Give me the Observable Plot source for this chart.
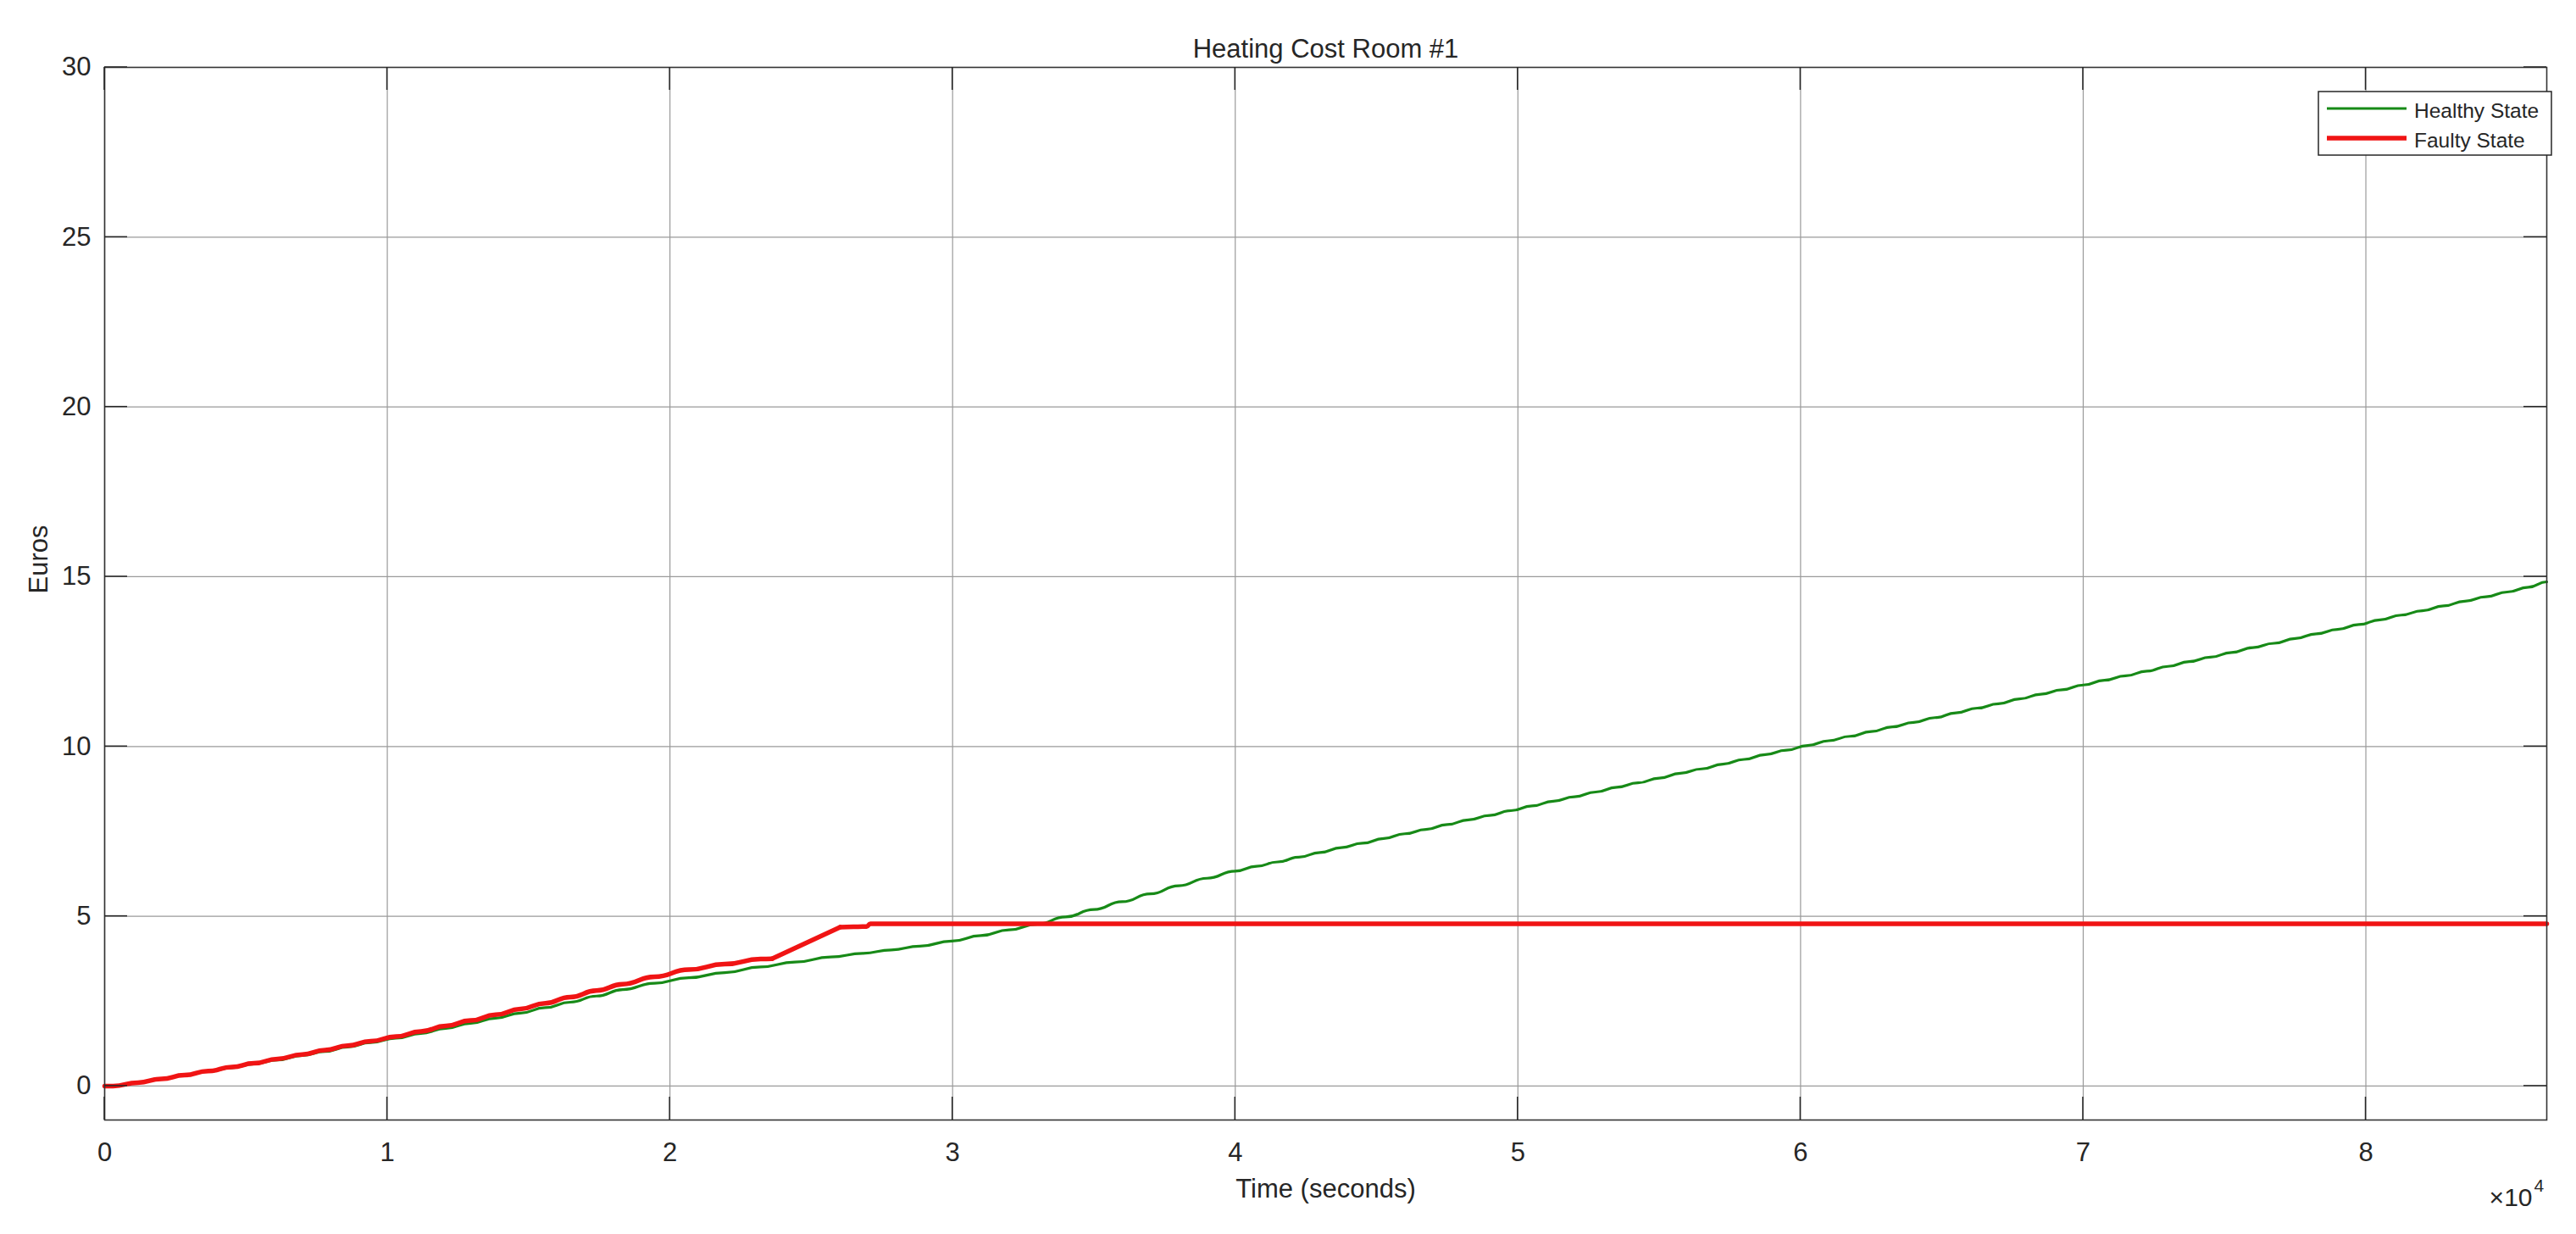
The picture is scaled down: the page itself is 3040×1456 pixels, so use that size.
<!DOCTYPE html>
<html>
<head>
<meta charset="utf-8">
<script src="https://cdn.jsdelivr.net/npm/d3@7"></script>
<script src="https://cdn.jsdelivr.net/npm/@observablehq/plot@0.6"></script>
<style>
  html, body { margin: 0; padding: 0; background: #ffffff; }
  #chart svg { display: block; }
</style>
</head>
<body>
<div id="chart"></div>
<script>
// ---------- text ----------
const title = "Heating Cost Room #1";
const xLabel = "Time (seconds)";
const yLabel = "Euros";
const xExponentBase = "\u00d710";
const xExponent = "4";
const seriesNames = ["Healthy State", "Faulty State"];

// ---------- ticks ----------
const xTicks = [0, 10000, 20000, 30000, 40000, 50000, 60000, 70000, 80000];
const yTicks = [0, 5, 10, 15, 20, 25, 30];

// ---------- Healthy State (time in s, cost in euros), read at each heating step ----------
const healthyTime = [0, 300, 1170, 2010, 2820, 3660, 4500, 5280, 6120, 6990,
  7800, 8600, 9410, 10310, 11190, 12070, 12950, 13830, 14710, 15590,
  16470, 17400, 18330, 19460, 20670, 21940, 23210, 24420, 25690, 26830,
  27830, 28840, 29970, 31000, 32000, 33000, 34000, 35000, 36000, 37000,
  38000, 39000,
  40000, 40750, 41500, 42250, 43000, 43750, 44500, 45250, 46000, 46750,
  47500, 48250, 49000, 49750, 50500, 51250, 52000, 52750, 53500, 54250,
  55000, 55750, 56500, 57250, 58000, 58750, 59500, 60250, 61000, 61750,
  62500, 63250, 64000, 64750, 65500, 66250, 67000, 67750, 68500, 69250,
  70000, 70750, 71500, 72250, 73000, 73750, 74500, 75250, 76000, 76750,
  77500, 78250, 79000, 79750, 80500, 81250, 82000, 82750, 83500, 84250,
  85000, 85750, 86400];
const healthyCost = [0, 0, 0.10, 0.21, 0.32, 0.43, 0.54, 0.65, 0.77, 0.90,
  1.02, 1.15, 1.28, 1.41, 1.55, 1.70, 1.85, 2.00, 2.15, 2.31,
  2.47, 2.65, 2.84, 3.03, 3.19, 3.34, 3.51, 3.65, 3.80, 3.91,
  4.01, 4.12, 4.27, 4.43, 4.60, 4.77, 4.98, 5.20, 5.43, 5.66,
  5.90, 6.12,
  6.33, 6.47, 6.60, 6.74, 6.88, 7.02, 7.15, 7.29, 7.43, 7.56,
  7.70, 7.84, 7.97, 8.11, 8.25, 8.39, 8.52, 8.66, 8.80, 8.93,
  9.07, 9.21, 9.34, 9.48, 9.62, 9.76, 9.89, 10.03, 10.17, 10.30,
  10.44, 10.58, 10.71, 10.85, 10.99, 11.13, 11.26, 11.40, 11.54, 11.67,
  11.81, 11.95, 12.08, 12.22, 12.36, 12.50, 12.63, 12.77, 12.91, 13.04,
  13.18, 13.32, 13.45, 13.59, 13.73, 13.87, 14.00, 14.14, 14.28, 14.41,
  14.55, 14.69, 14.85];

// ---------- Faulty State ----------
const faultyTime = [0, 300, 1170, 2010, 2820, 3660, 4500, 5280, 6120, 6990,
  7800, 8600, 9410, 10310, 11190, 12070, 12950, 13830, 14710, 15590,
  16470, 17400, 18330, 19460, 20670, 21940, 23210, 23610, 26020, 26960,
  27090, 86400];
const faultyCost = [0, 0, 0.10, 0.21, 0.32, 0.44, 0.56, 0.67, 0.80, 0.93,
  1.06, 1.19, 1.32, 1.46, 1.61, 1.77, 1.93, 2.10, 2.27, 2.44,
  2.62, 2.81, 3.00, 3.22, 3.43, 3.59, 3.74, 3.75, 4.68, 4.70,
  4.78, 4.78];
// the straight ramp segment of the faulty curve (start, end time)
const faultyRamp = [23610, 26020];

(function draw() {
  const healthy = healthyTime.slice(0, healthyCost.length).map((t, i) => ({time: t, cost: healthyCost[i]}));
  const faulty = faultyTime.map((t, i) => ({time: t, cost: faultyCost[i]}));
  const faultyBefore = faulty.filter(d => d.time <= faultyRamp[0]);
  const faultyRampPts = faulty.filter(d => d.time >= faultyRamp[0] && d.time <= faultyRamp[1]);
  const faultyAfter = faulty.filter(d => d.time >= faultyRamp[1]);

  const FONT = "'Liberation Sans', Arial, Helvetica, sans-serif";
  const TEXT = "#262626";
  const GRID = "#9a9a9a";
  const GREEN = "#178a17";
  const RED = "#f01414";
  const seriesColors = [GREEN, RED];
  const seriesWidths = [3.2, 5.5];
  const FS = 31;

  const chart = Plot.plot({
    width: 3040,
    height: 1456,
    marginLeft: 123,
    marginRight: 35,
    marginTop: 79,
    marginBottom: 135,
    style: {fontFamily: FONT, fontSize: FS + "px", color: TEXT, background: "#ffffff", overflow: "visible"},
    x: {domain: [0, 86400], label: null},
    y: {domain: [-1, 30], label: null},
    marks: [
      Plot.gridX(xTicks, {stroke: GRID, strokeOpacity: 1, strokeWidth: 1.2}),
      Plot.gridY(yTicks, {stroke: GRID, strokeOpacity: 1, strokeWidth: 1.2}),
      Plot.axisX(xTicks, {anchor: "bottom", tickSize: 0, tickPadding: 26, fontSize: FS, label: null, tickFormat: d => String(d / 1e4)}),
      Plot.axisY(yTicks, {anchor: "left", tickSize: 0, tickPadding: 16, fontSize: FS, label: null}),
      Plot.line(healthy, {x: "time", y: "cost", stroke: GREEN, strokeWidth: 3.2, curve: "bump-x"}),
      Plot.line(faultyBefore, {x: "time", y: "cost", stroke: RED, strokeWidth: 5.5, curve: "bump-x", strokeLinecap: "round"}),
      Plot.line(faultyRampPts, {x: "time", y: "cost", stroke: RED, strokeWidth: 5.5, curve: "linear", strokeLinecap: "round"}),
      Plot.line(faultyAfter, {x: "time", y: "cost", stroke: RED, strokeWidth: 5.5, curve: "bump-x", strokeLinecap: "round"}),
      Plot.frame({stroke: "#333333", strokeWidth: 1.6}),
      Plot.text([title], {frameAnchor: "top", lineAnchor: "bottom", dy: -12, fontSize: FS, fill: TEXT}),
      Plot.text([xLabel], {frameAnchor: "bottom", lineAnchor: "bottom", dy: 91, fontSize: FS, fill: TEXT}),
      Plot.text([yLabel], {frameAnchor: "left", lineAnchor: "bottom", rotate: -90, dx: -68, fontSize: FS, fill: TEXT}),
      Plot.text([xExponentBase], {frameAnchor: "bottom-right", textAnchor: "end", lineAnchor: "bottom", dx: -17, dy: 101, fontSize: 30, fill: TEXT}),
      Plot.text([xExponent], {frameAnchor: "bottom-right", textAnchor: "start", lineAnchor: "bottom", dx: -15, dy: 84, fontSize: 21, fill: TEXT})
    ]
  });

  document.getElementById("chart").appendChild(chart);

  // ---------- inward tick marks on all four sides + legend ----------
  const sx = chart.scale("x"), sy = chart.scale("y");
  const fx = sx.apply ? (v => sx.apply(v)) : d3.scaleLinear(sx.domain, sx.range);
  const fy = sy.apply ? (v => sy.apply(v)) : d3.scaleLinear(sy.domain, sy.range);
  const fLeft = Math.min(...sx.range), fRight = Math.max(...sx.range);
  const fTop = Math.min(...sy.range), fBottom = Math.max(...sy.range);
  const TICK = 27;
  const svg = d3.select(chart);
  const tg = svg.append("g").attr("stroke", TEXT).attr("stroke-width", 1.5);
  for (const t of xTicks) {
    const x = fx(t);
    tg.append("line").attr("x1", x).attr("x2", x).attr("y1", fBottom).attr("y2", fBottom - TICK);
    tg.append("line").attr("x1", x).attr("x2", x).attr("y1", fTop).attr("y2", fTop + TICK);
  }
  for (const v of yTicks) {
    const y = fy(v);
    tg.append("line").attr("x1", fLeft).attr("x2", fLeft + TICK).attr("y1", y).attr("y2", y);
    tg.append("line").attr("x1", fRight).attr("x2", fRight - TICK).attr("y1", y).attr("y2", y);
  }

  const lg = svg.append("g").attr("font-family", FONT).attr("font-size", 24.5)
    .attr("fill", TEXT).attr("text-anchor", "start");
  const boxX = fRight - 269, boxY = fTop + 29, boxW = 275, boxH = 75;
  lg.append("rect").attr("x", boxX).attr("y", boxY).attr("width", boxW).attr("height", boxH)
    .attr("fill", "#ffffff").attr("stroke", "#262626").attr("stroke-width", 1.5);
  seriesNames.forEach((name, i) => {
    const y = boxY + 20 + i * 35;
    lg.append("line").attr("x1", boxX + 10).attr("x2", boxX + 104).attr("y1", y).attr("y2", y)
      .attr("stroke", seriesColors[i]).attr("stroke-width", seriesWidths[i]);
    lg.append("text").attr("x", boxX + 113).attr("y", y + 11).attr("text-anchor", "start").text(name);
  });
})();
</script>
</body>
</html>
